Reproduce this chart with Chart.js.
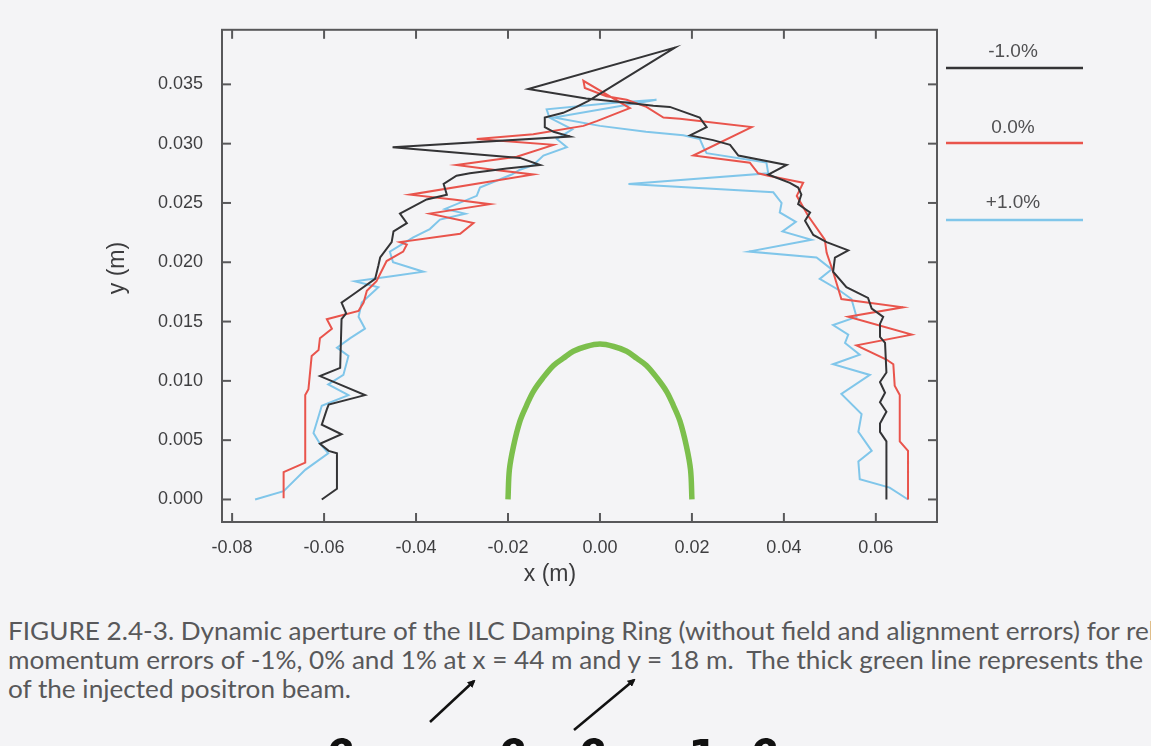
<!DOCTYPE html>
<html>
<head>
<meta charset="utf-8">
<script src="https://cdn.jsdelivr.net/npm/chart.js@4.4.1/dist/chart.umd.min.js"></script>
<style>
  html, body { margin: 0; padding: 0; }
  body { width: 1151px; height: 746px; overflow: hidden; background: #f4f4f6; position: relative; }
  #wrap { position: absolute; left: 0; top: 0; width: 1151px; height: 600px; }
  #caption { position: absolute; left: 8px; top: 616px; font-family: Lato, 'Noto Sans', sans-serif; font-size: 25px;
             line-height: 29px; color: #58585a; white-space: nowrap; transform-origin: 0 0; }
  #arrows { position: absolute; left: 0; top: 0; }
  .cut { position: absolute; top: 731px; font-family: 'DejaVu Sans', sans-serif; font-weight: bold; font-size: 44px; color: #111; }
</style>
</head>
<body>
<div id="wrap"><canvas id="chart"></canvas></div>
<div id="caption">
  <div id="cap1">FIGURE 2.4-3. Dynamic aperture of the ILC Damping Ring (without field and alignment errors) for relative</div>
  <div id="cap2">momentum errors of -1%, 0% and 1% at x = 44 m and y = 18 m.&nbsp; The thick green line represents the</div>
  <div id="cap3">of the injected positron beam.</div>
</div>
<svg id="arrows" width="1151" height="746">
  <defs>
    <marker id="head" markerWidth="8" markerHeight="8" refX="6" refY="4" orient="auto" markerUnits="userSpaceOnUse">
      <path d="M0,0 L8,4 L0,8 z" fill="#111"/>
    </marker>
  </defs>
  <line x1="430" y1="722" x2="474" y2="681" stroke="#111" stroke-width="2.5" marker-end="url(#head)"/>
  <line x1="574" y1="730" x2="634" y2="680" stroke="#111" stroke-width="2.5" marker-end="url(#head)"/>
</svg>
<span class="cut" style="left:326px">β</span>
<span class="cut" style="left:498px">β</span>
<span class="cut" style="left:578px">β</span>
<span class="cut" style="left:688px">1</span>
<span class="cut" style="left:750px">β</span>
<script>
// tick values
const xTicks = [-0.08, -0.06, -0.04, -0.02, 0.00, 0.02, 0.04, 0.06];
const yTicks = [0.000, 0.005, 0.010, 0.015, 0.020, 0.025, 0.030, 0.035];

const seriesLabels = ['-1.0%', '0.0%', '+1.0%'];
const seriesColors = ['#343436', '#e9544c', '#80c6ea'];

// momentum error -1.0% (x, y in m)
const minus1 = [
  [-0.0605, 0.0000], [-0.0572, 0.0009], [-0.0572, 0.0039], [-0.0590, 0.0041], [-0.0609, 0.0047],
  [-0.0562, 0.0055], [-0.0605, 0.0063], [-0.0594, 0.0076], [-0.0590, 0.0080], [-0.0511, 0.0088],
  [-0.0609, 0.0104], [-0.0565, 0.0111], [-0.0562, 0.0152], [-0.0552, 0.0157], [-0.0562, 0.0166],
  [-0.0536, 0.0173], [-0.0489, 0.0186], [-0.0482, 0.0197], [-0.0478, 0.0204], [-0.0453, 0.0217],
  [-0.0449, 0.0226], [-0.0420, 0.0233], [-0.0435, 0.0241], [-0.0377, 0.0253], [-0.0333, 0.0257],
  [-0.0340, 0.0266], [-0.0312, 0.0273], [-0.0283, 0.0275], [-0.0203, 0.0279], [-0.0130, 0.0282],
  [-0.0174, 0.0288], [-0.0451, 0.0297], [-0.0065, 0.0306], [-0.0101, 0.0310], [-0.0120, 0.0314],
  [-0.0120, 0.0322], [-0.0080, 0.0326], [-0.0051, 0.0331], [-0.0025, 0.0336], [0.0163, 0.0381],
  [-0.0156, 0.0346], [-0.0030, 0.0338], [0.0050, 0.0335], [0.0116, 0.0332], [0.0152, 0.0331],
  [0.0217, 0.0322], [0.0232, 0.0314], [0.0196, 0.0307], [0.0246, 0.0303], [0.0283, 0.0299],
  [0.0301, 0.0290], [0.0406, 0.0282], [0.0366, 0.0274], [0.0413, 0.0267], [0.0431, 0.0263],
  [0.0438, 0.0257], [0.0431, 0.0249], [0.0457, 0.0242], [0.0446, 0.0235], [0.0464, 0.0223],
  [0.0493, 0.0217], [0.0540, 0.0210], [0.0511, 0.0204], [0.0507, 0.0192], [0.0536, 0.0179],
  [0.0583, 0.0170], [0.0591, 0.0161], [0.0616, 0.0154], [0.0609, 0.0148], [0.0609, 0.0137],
  [0.0620, 0.0132], [0.0623, 0.0107], [0.0609, 0.0099], [0.0620, 0.0090], [0.0609, 0.0082],
  [0.0623, 0.0074], [0.0609, 0.0064], [0.0609, 0.0057], [0.0623, 0.0049], [0.0623, 0.0000]
];

// momentum error 0.0%
const zero = [
  [-0.0688, 0.0001], [-0.0688, 0.0023], [-0.0641, 0.0031], [-0.0641, 0.0088], [-0.0634, 0.0093],
  [-0.0627, 0.0121], [-0.0612, 0.0126], [-0.0609, 0.0136], [-0.0583, 0.0144], [-0.0594, 0.0152],
  [-0.0525, 0.0159], [-0.0514, 0.0166], [-0.0507, 0.0176], [-0.0486, 0.0184], [-0.0464, 0.0201],
  [-0.0428, 0.0209], [-0.0420, 0.0215], [-0.0435, 0.0217], [-0.0304, 0.0224], [-0.0275, 0.0233],
  [-0.0370, 0.0241], [-0.0239, 0.0249], [-0.0319, 0.0253], [-0.0413, 0.0257], [-0.0145, 0.0274],
  [-0.0232, 0.0278], [-0.0312, 0.0282], [-0.0181, 0.0289], [-0.0101, 0.0299], [-0.0268, 0.0304],
  [-0.0145, 0.0308], [-0.0036, 0.0315], [-0.0007, 0.0319], [0.0065, 0.0330], [-0.0036, 0.0353],
  [-0.0033, 0.0347], [0.0014, 0.0340], [0.0058, 0.0337], [0.0101, 0.0331], [0.0138, 0.0322],
  [0.0174, 0.0321], [0.0330, 0.0314], [0.0203, 0.0290], [0.0326, 0.0284], [0.0344, 0.0275],
  [0.0366, 0.0273], [0.0442, 0.0267], [0.0428, 0.0256], [0.0453, 0.0239], [0.0489, 0.0219],
  [0.0493, 0.0208], [0.0507, 0.0192], [0.0525, 0.0169], [0.0659, 0.0162], [0.0540, 0.0154],
  [0.0678, 0.0139], [0.0558, 0.0130], [0.0623, 0.0118], [0.0638, 0.0114], [0.0641, 0.0096],
  [0.0652, 0.0088], [0.0652, 0.0049], [0.0670, 0.0041], [0.0670, 0.0000]
];

// momentum error +1.0%
const plus1 = [
  [-0.0750, 0.0000], [-0.0688, 0.0007], [-0.0641, 0.0025], [-0.0591, 0.0039], [-0.0609, 0.0047],
  [-0.0623, 0.0056], [-0.0605, 0.0079], [-0.0547, 0.0088], [-0.0591, 0.0097], [-0.0558, 0.0105],
  [-0.0547, 0.0121], [-0.0572, 0.0128], [-0.0543, 0.0136], [-0.0511, 0.0144], [-0.0525, 0.0154],
  [-0.0518, 0.0166], [-0.0482, 0.0179], [-0.0533, 0.0184], [-0.0457, 0.0188], [-0.0384, 0.0192],
  [-0.0450, 0.0200], [-0.0457, 0.0209], [-0.0406, 0.0221], [-0.0370, 0.0228], [-0.0348, 0.0236],
  [-0.0293, 0.0241], [-0.0337, 0.0245], [-0.0268, 0.0256], [-0.0261, 0.0263], [-0.0192, 0.0274],
  [-0.0174, 0.0278], [-0.0145, 0.0282], [-0.0123, 0.0290], [-0.0072, 0.0297], [-0.0094, 0.0304],
  [-0.0060, 0.0312], [-0.0110, 0.0322], [-0.0116, 0.0329], [0.0020, 0.0334], [0.0123, 0.0337],
  [-0.0100, 0.0322], [0.0000, 0.0315], [0.0100, 0.0310], [0.0181, 0.0307], [0.0217, 0.0304],
  [0.0225, 0.0297], [0.0232, 0.0292], [0.0362, 0.0284], [0.0366, 0.0275], [0.0062, 0.0266],
  [0.0377, 0.0259], [0.0395, 0.0250], [0.0391, 0.0242], [0.0426, 0.0234], [0.0397, 0.0226],
  [0.0460, 0.0219], [0.0324, 0.0209], [0.0471, 0.0204], [0.0504, 0.0194], [0.0478, 0.0186],
  [0.0522, 0.0176], [0.0547, 0.0169], [0.0558, 0.0154], [0.0507, 0.0147], [0.0540, 0.0139],
  [0.0533, 0.0132], [0.0565, 0.0122], [0.0507, 0.0114], [0.0587, 0.0105], [0.0525, 0.0089],
  [0.0569, 0.0072], [0.0562, 0.0057], [0.0591, 0.0041], [0.0562, 0.0032], [0.0565, 0.0017],
  [0.0630, 0.0010], [0.0670, 0.0000]
];

// injected positron beam size (thick green line)
const beam = [
  [-0.0200, 0.0000], [-0.0197, 0.0025], [-0.0188, 0.0045], [-0.0174, 0.0066], [-0.0160, 0.0079],
  [-0.0145, 0.0091], [-0.0125, 0.0102], [-0.0101, 0.0113], [-0.0080, 0.0119], [-0.0058, 0.0125],
  [-0.0030, 0.0129], [0.0000, 0.0131], [0.0030, 0.0129], [0.0058, 0.0125], [0.0080, 0.0119],
  [0.0101, 0.0113], [0.0125, 0.0102], [0.0145, 0.0091], [0.0160, 0.0079], [0.0174, 0.0066],
  [0.0188, 0.0045], [0.0197, 0.0025], [0.0200, 0.0000]
];

const toXY = arr => arr.map(p => ({ x: p[0], y: p[1] }));

const lineSet = (label, pts, color, width) => ({
  label: label,
  data: toXY(pts),
  showLine: true,
  borderColor: color,
  backgroundColor: color,
  borderWidth: width,
  pointRadius: 0,
  fill: false
});

const datasets = [
  lineSet(seriesLabels[0], minus1, seriesColors[0], 2),
  lineSet(seriesLabels[1], zero, seriesColors[1], 2),
  lineSet(seriesLabels[2], plus1, seriesColors[2], 2),
  Object.assign(lineSet('beam', beam, '#7cbf4c', 5.5), { tension: 0.35 })
];

// frame with inward ticks, axis titles, side legend
const framePlugin = {
  id: 'frame',
  afterDraw(chart) {
    const { ctx, chartArea: a } = chart;
    const sx = chart.scales.x, sy = chart.scales.y;
    const seg = (x1, y1, x2, y2) => { ctx.beginPath(); ctx.moveTo(x1, y1); ctx.lineTo(x2, y2); ctx.stroke(); };
    ctx.save();
    ctx.strokeStyle = '#58585a';
    ctx.lineWidth = 2;
    ctx.strokeRect(a.left, a.top, a.right - a.left, a.bottom - a.top);
    xTicks.forEach(v => {
      const px = sx.getPixelForValue(v);
      seg(px, a.bottom, px, a.bottom - 9);
      seg(px, a.top, px, a.top + 9);
    });
    yTicks.forEach(v => {
      const py = sy.getPixelForValue(v);
      seg(a.left, py, a.left + 9, py);
      seg(a.right, py, a.right - 9, py);
    });

    // axis titles
    ctx.fillStyle = '#3c3c3e';
    ctx.font = '23px "Liberation Sans", Arial, sans-serif';
    ctx.textAlign = 'center';
    ctx.textBaseline = 'middle';
    ctx.fillText('x (m)', 550, 575);
    ctx.save();
    ctx.translate(118, 268);
    ctx.rotate(-Math.PI / 2);
    ctx.fillText('y (m)', 0, 0);
    ctx.restore();

    // legend on the right
    const rows = [[52, 68], [128, 143], [203, 220]];
    ctx.font = '19px "Liberation Sans", Arial, sans-serif';
    for (let i = 0; i < 3; i++) {
      ctx.fillStyle = '#505052';
      ctx.fillText(seriesLabels[i], 1013, rows[i][0]);
      ctx.strokeStyle = seriesColors[i];
      ctx.lineWidth = 2.5;
      seg(946, rows[i][1], 1083, rows[i][1]);
    }
    ctx.restore();
  }
};

const tickFont = { size: 18, family: '"Liberation Sans", Arial, sans-serif' };

const ctx = document.getElementById('chart').getContext('2d');
new Chart(ctx, {
  type: 'scatter',
  data: { datasets: datasets },
  options: {
    responsive: true,
    maintainAspectRatio: false,
    animation: false,
    layout: { padding: { left: 0, right: 214, top: 21, bottom: 0 } },
    plugins: { legend: { display: false }, tooltip: { enabled: false } },
    scales: {
      x: {
        type: 'linear',
        min: -0.0822,
        max: 0.0733,
        afterBuildTicks: s => { s.ticks = xTicks.map(v => ({ value: v })); },
        afterFit: s => { s.height = 78; },
        ticks: {
          callback: v => v.toFixed(2),
          font: tickFont,
          color: '#3e3e40',
          padding: 15,
          maxRotation: 0,
          autoSkip: false
        },
        grid: { display: false, drawTicks: false },
        border: { display: false }
      },
      y: {
        type: 'linear',
        min: -0.0019,
        max: 0.0396,
        afterBuildTicks: s => { s.ticks = yTicks.map(v => ({ value: v })); },
        afterFit: s => { s.width = 222; },
        ticks: {
          callback: v => v.toFixed(3),
          font: tickFont,
          color: '#3e3e40',
          padding: 19,
          autoSkip: false
        },
        grid: { display: false, drawTicks: false },
        border: { display: false }
      }
    }
  },
  plugins: [framePlugin]
});

// squeeze the caption to the width of the scanned lines
const cap = document.getElementById('caption');
const cap2 = document.getElementById('cap2');
const probe = document.createElement('span');
probe.textContent = cap2.textContent;
cap2.textContent = '';
cap2.appendChild(probe);
const natural = probe.getBoundingClientRect().width;
cap.style.transform = 'scaleX(' + (1135 / natural) + ')';
</script>
</body>
</html>
